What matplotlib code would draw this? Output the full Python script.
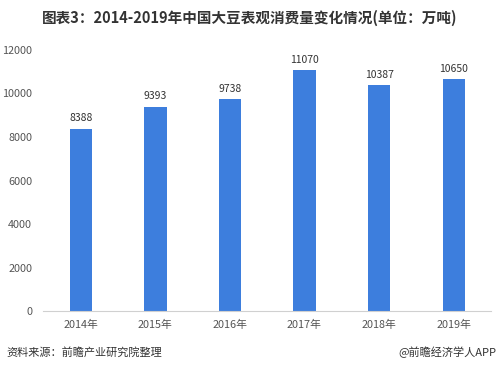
import matplotlib.pyplot as plt

plt.rcParams['font.family'] = ['Noto Sans CJK SC', 'DejaVu Sans']

years = ['2014年', '2015年', '2016年', '2017年', '2018年', '2019年']
values = [8388, 9393, 9738, 11070, 10387, 10650]
yticks = [0, 2000, 4000, 6000, 8000, 10000, 12000]

fig = plt.figure(figsize=(4.99, 3.70), dpi=100)
ax = fig.add_axes([0.087, 0.159, 0.897, 0.706])

x = range(len(years))
ax.bar(x, values, width=0.3, color='#3D7EDD', zorder=2)
for i, v in zip(x, values):
    ax.text(i, v + 250, str(v), ha='center', va='bottom', fontsize=7.5, color='#333333')

ax.set_xlim(-0.5, len(years) - 0.5)
ax.set_ylim(0, 12000)
ax.set_yticks(yticks)
ax.set_xticks(list(x))
ax.set_xticklabels(years)
ax.tick_params(axis='both', length=0, labelsize=7.8, labelcolor='#555555')
ax.tick_params(axis='x', pad=6)
ax.tick_params(axis='y', pad=8)
for s in ['top', 'right', 'left']:
    ax.spines[s].set_visible(False)
ax.spines['bottom'].set_color('#D0D0D0')

fig.text(0.5, 0.952, '图表3：2014-2019年中国大豆表观消费量变化情况(单位：万吨)',
         ha='center', va='center', fontsize=10.5, fontweight='bold', color='#333333')
fig.text(0.012, 0.048, '资料来源：前瞻产业研究院整理', ha='left', va='center',
         fontsize=8, color='#333333')
fig.text(0.994, 0.048, '@前瞻经济学人APP', ha='right', va='center',
         fontsize=8, color='#333333')

fig.savefig('out.png', dpi=100)
